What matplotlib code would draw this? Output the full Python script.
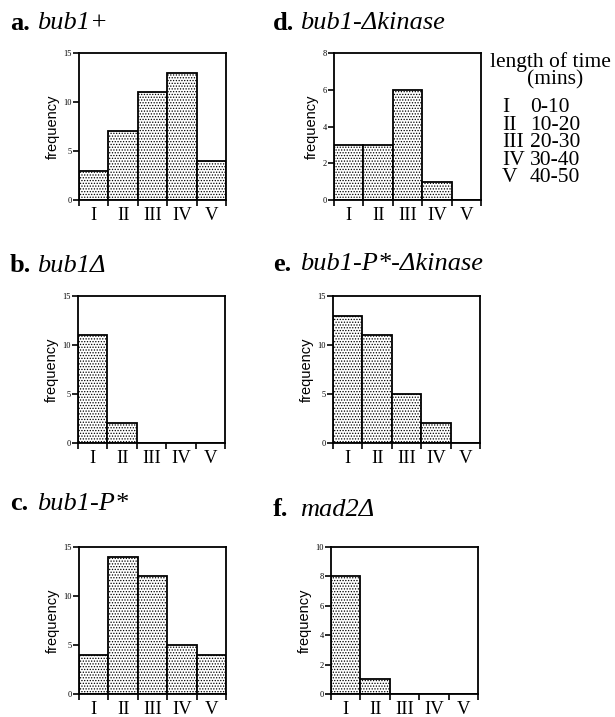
import matplotlib.pyplot as plt
from matplotlib.ticker import FixedLocator, NullFormatter

plt.rcParams['hatch.linewidth'] = 0.6

bins = ["I", "II", "III", "IV", "V"]
ranges = ["0-10", "10-20", "20-30", "30-40", "40-50"]

bub1_plus = [3, 7, 11, 13, 4]
bub1_del = [11, 2, 0, 0, 0]
bub1_p = [4, 14, 12, 5, 4]
bub1_dkin = [3, 3, 6, 1, 0]
bub1_p_dkin = [13, 11, 5, 2, 0]
mad2_del = [8, 1, 0, 0, 0]

W, H = 615, 717
fig = plt.figure(figsize=(W / 100, H / 100), dpi=100)


def px(x, y):
    return x / W, 1 - y / H


def panel(left, top, vals, ymax, ystep, letter, name, tx, ty):
    w, h = 147, 147
    ax = fig.add_axes([left / W, 1 - (top + h) / H, w / W, h / H])
    ax.bar(range(5), vals, width=1, align='edge', color='white',
           edgecolor='black', linewidth=1.3, hatch='......')
    ax.set_xlim(0, 5)
    ax.set_ylim(0, ymax)
    ax.xaxis.set_major_locator(FixedLocator(range(6)))
    ax.xaxis.set_major_formatter(NullFormatter())
    ax.xaxis.set_minor_locator(FixedLocator([i + 0.5 for i in range(5)]))
    ax.set_xticklabels(bins, minor=True, family='Liberation Serif', fontsize=13.5)
    ax.tick_params(axis='x', which='major', length=4, width=1.2, direction='out')
    ax.tick_params(axis='x', which='minor', length=0, pad=5)
    ax.set_yticks(range(0, ymax + 1, ystep))
    ax.tick_params(axis='y', length=4, width=1.2, pad=1, labelsize=6)
    for lab in ax.get_yticklabels():
        lab.set_family('Liberation Serif')
    ax.set_ylabel("frequency", family='Liberation Sans', fontsize=10.5, labelpad=3)
    for s in ax.spines.values():
        s.set_linewidth(1.3)
    fig.text(*px(tx, ty), letter, family='Liberation Serif', weight='bold',
             fontsize=19, va='center', ha='left')
    fig.text(*px(tx + 27, ty), name, family='Liberation Serif', style='italic',
             fontsize=19, va='center', ha='left')
    return ax


panel(79, 53, bub1_plus, 15, 5, "a.", "bub1+", 10, 23)
panel(78, 296, bub1_del, 15, 5, "b.", "bub1\u0394", 10, 266)
panel(79, 547, bub1_p, 15, 5, "c.", "bub1-P*", 10, 504)
panel(334, 53, bub1_dkin, 8, 2, "d.", "bub1-\u0394kinase", 273, 23)
panel(333, 296, bub1_p_dkin, 15, 5, "e.", "bub1-P*-\u0394kinase", 273, 264)
panel(331, 547, mad2_del, 10, 2, "f.", "mad2\u0394", 273, 510)

fig.text(*px(490, 62), "length of time", family='Liberation Serif',
         fontsize=15.5, va='center', ha='left')
fig.text(*px(555, 80), "(mins)", family='Liberation Serif',
         fontsize=15.5, va='center', ha='center')
for i, (b, r) in enumerate(zip(bins, ranges)):
    y = 108 + i * 17.4
    fig.text(*px(502, y), b, family='Liberation Serif', fontsize=15.5,
             va='center', ha='left')
    fig.text(*px(530, y), r, family='Liberation Serif', fontsize=15.5,
             va='center', ha='left')

fig.savefig("out.png", dpi=100)
